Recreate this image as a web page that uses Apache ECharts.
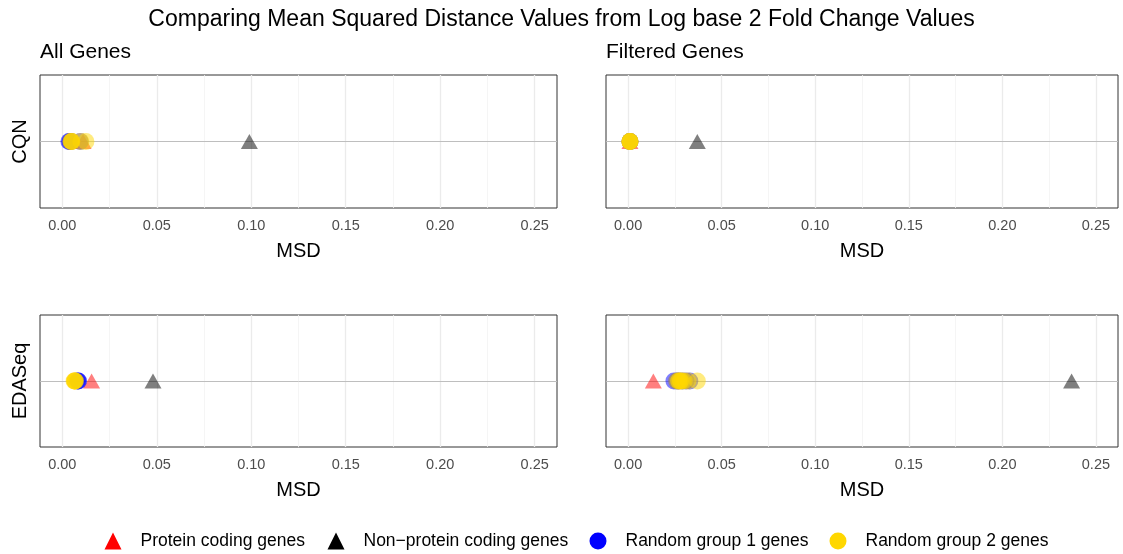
<!DOCTYPE html>
<html>
<head>
<meta charset="utf-8">
<script src="https://cdn.jsdelivr.net/npm/echarts@6/dist/echarts.min.js"></script>
<style>
  html, body { margin: 0; padding: 0; background: #ffffff; }
  #chart { width: 1123px; height: 554px; }
</style>
</head>
<body>
<div id="chart"></div>
<script>
// Panels: rows are normalisation methods, columns are gene sets
const methods = ['CQN', 'EDASeq'];
const geneSets = ['All Genes', 'Filtered Genes'];
const groupNames = ['Protein coding genes', 'Non\u2212protein coding genes', 'Random group 1 genes', 'Random group 2 genes'];
const xTicks = [0, 0.05, 0.10, 0.15, 0.20, 0.25];
const xMinorTicks = [0.025, 0.075, 0.125, 0.175, 0.225];

// MSD values, panel order: CQN/All, CQN/Filtered, EDASeq/All, EDASeq/Filtered
const proteinMSD = [[0.011], [0.001], [0.0155], [0.0135]];
const nonProteinMSD = [[0.099], [0.037], [0.048], [0.237]];
const random1MSD = [
  [0.0035, 0.004, 0.0045, 0.0095],
  [0.001, 0.001],
  [0.008, 0.0085, 0.0085],
  [0.0245, 0.026, 0.027, 0.029, 0.031, 0.033]
];
const random2MSD = [
  [0.0045, 0.0047, 0.005, 0.005, 0.0098, 0.0125],
  [0.001, 0.001, 0.001, 0.001, 0.001],
  [0.0062, 0.0065, 0.0066, 0.0068, 0.007],
  [0.026, 0.027, 0.027, 0.028, 0.028, 0.029, 0.030, 0.032, 0.037]
];

const FONT = "'Liberation Sans', Arial, Helvetica, sans-serif";
const groupColors = ['#FF0000', '#000000', '#0000FF', '#FFD700'];
const groupSymbols = ['triangle', 'triangle', 'circle', 'circle'];
const groupSizes = [[17, 15], [17, 15], 17, 17];
const groupValues = [proteinMSD, nonProteinMSD, random1MSD, random2MSD];

const panelLayout = [
  { left: 40, top: 75, width: 517, height: 133 },
  { left: 606, top: 75, width: 512, height: 133 },
  { left: 40, top: 315, width: 517, height: 132 },
  { left: 606, top: 315, width: 512, height: 132 }
];

const grid = [], xAxis = [], yAxis = [], series = [];

panelLayout.forEach((p, i) => {
  const row = Math.floor(i / 2), col = i % 2;
  grid.push(Object.assign({ show: true, borderColor: '#333333', borderWidth: 1, backgroundColor: 'transparent' }, p));
  xAxis.push({
    gridIndex: i, type: 'value', min: -0.0118, max: 0.2618,
    name: 'MSD', nameLocation: 'middle', nameGap: 33,
    nameTextStyle: { fontFamily: FONT, fontSize: 20, color: '#000000' },
    axisLine: { show: false },
    axisTick: { show: true, customValues: xTicks, length: 4, lineStyle: { color: '#333333', width: 1 } },
    axisLabel: { customValues: xTicks, formatter: v => v.toFixed(2), fontFamily: FONT, fontSize: 14.5, color: '#4d4d4d', margin: 10 },
    splitLine: { show: false }
  });
  yAxis.push({
    gridIndex: i, type: 'value', min: -1, max: 1,
    name: col === 0 ? methods[row] : '', nameLocation: 'middle', nameRotate: 90, nameGap: 10,
    nameTextStyle: { fontFamily: FONT, fontSize: 20, color: '#000000' },
    axisLine: { show: false }, axisTick: { show: false }, axisLabel: { show: false }, splitLine: { show: false }
  });
  // background grid lines for the panel
  const lines = [];
  xMinorTicks.forEach(v => lines.push({ xAxis: v, lineStyle: { color: '#f2f2f2', width: 0.8, type: 'solid' } }));
  xTicks.forEach(v => lines.push({ xAxis: v, lineStyle: { color: '#ebebeb', width: 1.3, type: 'solid' } }));
  lines.push({ yAxis: 0, lineStyle: { color: '#bebebe', width: 1, type: 'solid' } });
  series.push({
    type: 'scatter', xAxisIndex: i, yAxisIndex: i, data: [], silent: true, z: 1,
    markLine: { silent: true, z: 1, precision: 6, symbol: 'none', label: { show: false }, animation: false, data: lines }
  });
  groupNames.forEach((name, g) => {
    series.push({
      type: 'scatter', name: name, xAxisIndex: i, yAxisIndex: i, z: 3,
      symbol: groupSymbols[g], symbolSize: groupSizes[g],
      itemStyle: { color: groupColors[g], opacity: 0.5 },
      emphasis: { disabled: true },
      data: groupValues[g][i].map(v => [v, 0])
    });
  });
});

const legendLeft = [104.5, 327.5, 589.5, 829.5];
const legend = groupNames.map((name, g) => ({
  left: legendLeft[g], top: 532, orient: 'horizontal', padding: 0,
  itemWidth: 17, itemHeight: 17,
  itemStyle: { opacity: 1 },
  textStyle: { fontFamily: FONT, fontSize: 17.5, color: '#000000', padding: [0, 0, 0, 14] },
  data: [{ name: name, icon: groupSymbols[g], itemStyle: { opacity: 1, color: groupColors[g] } }]
}));

const title = [
  { text: 'Comparing Mean Squared Distance Values from Log base 2 Fold Change Values', left: 'center', top: 8, padding: 0,
    textStyle: { fontFamily: FONT, fontSize: 23, fontWeight: 'normal', color: '#000000' } },
  { text: geneSets[0], left: 40, top: 42, padding: 0, textStyle: { fontFamily: FONT, fontSize: 21, fontWeight: 'normal', color: '#000000' } },
  { text: geneSets[1], left: 606, top: 42, padding: 0, textStyle: { fontFamily: FONT, fontSize: 21, fontWeight: 'normal', color: '#000000' } }
];

const chart = echarts.init(document.getElementById('chart'), null, { renderer: 'canvas' });
chart.setOption({
  animation: false,
  backgroundColor: '#ffffff',
  title: title,
  legend: legend,
  grid: grid,
  xAxis: xAxis,
  yAxis: yAxis,
  series: series
});
</script>
</body>
</html>
